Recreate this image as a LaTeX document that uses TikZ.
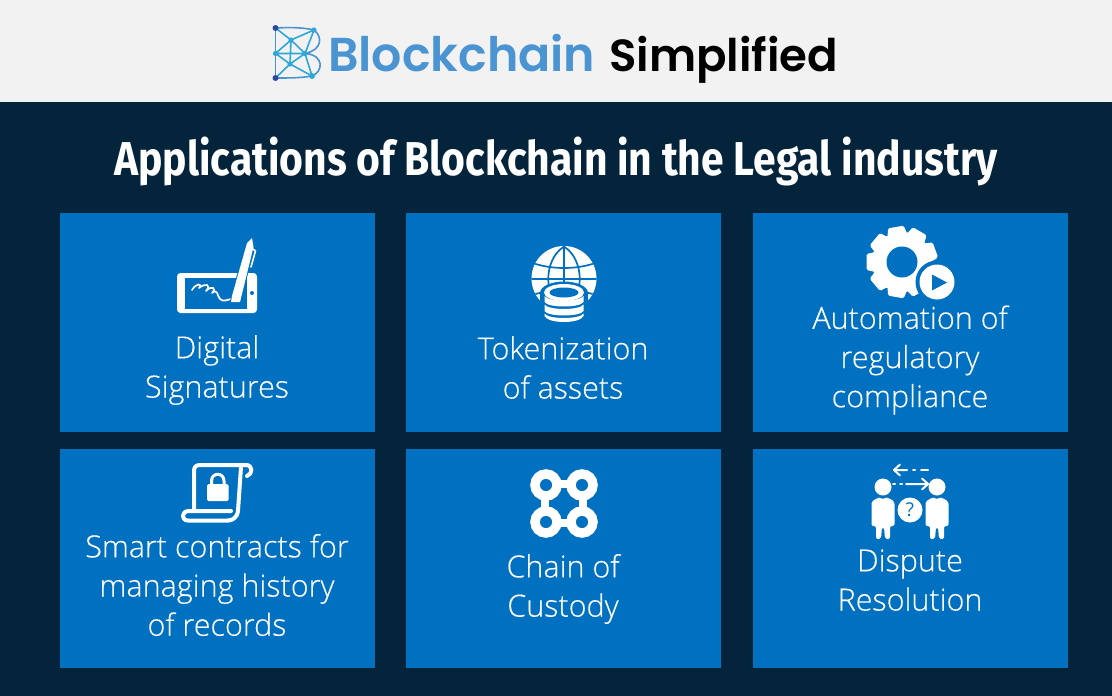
\documentclass[tikz,border=0pt]{standalone}
\usepackage{fontspec}
\setmainfont{Open Sans}[UprightFont=* Light,FakeBold=0.25]
\newfontfamily\qfont{Open Sans}
\newfontfamily\titlefont{Fira Sans}[UprightFont=* Bold,FakeStretch=0.86]
\newfontfamily\logofont{Poppins}[UprightFont=* SemiBold]
\usetikzlibrary{arrows.meta}
\definecolor{bgnavy}{HTML}{03243A}
\definecolor{boxblue}{HTML}{0070C0}
\definecolor{headgrey}{HTML}{F2F2F2}
\definecolor{logoblue}{HTML}{4A94D2}
\definecolor{logocyan}{HTML}{2FA8D8}
\definecolor{logoindigo}{HTML}{2C4A9E}
\tikzset{
 tile/.style={fill=boxblue,draw=none,minimum width=315pt,minimum height=219pt,inner sep=0pt,anchor=north west},
 lbl/.style={text=white,align=center,font=\fontsize{30.5}{39.2}\selectfont,inner sep=0pt},
 icl/.style={draw=white,line cap=round,line join=round},
 lg/.style={draw=logocyan,line width=1.6pt},
 lgd/.style={fill=logocyan,draw=none}
}
\begin{document}
\begin{tikzpicture}[x=1pt,y=-1pt]
\useasboundingbox (0,0) rectangle (1112,696);
\fill[bgnavy] (0,0) rectangle (1112,696);
\fill[headgrey] (0,0) rectangle (1112,102);
% logo
\draw[lg,draw=logoblue] (275.5,28) -- (275.5,78);
\draw[lg,draw=logoblue] (275.5,28) .. controls (295,27) and (305,28) .. (314,30) .. controls (323,37) and (322,50) .. (305,53.5) .. controls (325,55) and (323,72) .. (312,76) .. controls (300,78) and (290,78) .. (275.5,78);
\draw[lg] (275.5,28) -- (291,40) -- (314,30) (291,40) -- (305,53.5) -- (290,64) -- (275.5,53.5) -- (291,40) -- (290,64) -- (275.5,78) (290,64) -- (312,76) -- (305,53.5) -- (314,30) (275.5,53.5) -- (305,53.5);
\fill[logoindigo] (275.5,28) circle (3) (275.5,78) circle (3);
\fill[lgd] (314,30) circle (2.6) (291,40) circle (2.6) (275.5,53.5) circle (2.6) (305,53.5) circle (2.6) (290,64) circle (2.6) (312,76) circle (3);
\node[inner sep=0pt,anchor=base west,text=logoblue,font=\logofont\fontsize{47.5}{50}\selectfont] (brand) at (328,71) {Blockchain};
\node[inner sep=0pt,anchor=base west,text=black,font=\logofont\fontsize{45}{50}\selectfont] (simp) at (609,71) {Simplified};
\node[inner sep=0pt,text=white,anchor=base,font=\titlefont\fontsize{47.5}{50}\selectfont] (title) at (556,175) {Applications of Blockchain in the Legal industry};
% tiles
\node[tile] (t1) at (60,213) {};
\node[tile] (t2) at (406,213) {};
\node[tile] (t3) at (753,213) {};
\node[tile] (t4) at (60,449) {};
\node[tile] (t5) at (406,449) {};
\node[tile] (t6) at (753,449) {};
% labels
\node[lbl] (l1) at (217,370) {Digital\\Signatures};
\node[lbl] (l2) at (563,367.5) {Tokenization\\of assets};
\node[lbl] (l3) at (910,360) {Automation of\\regulatory\\compliance};
\node[lbl] (l4) at (217,585) {Smart contracts for\\managing history\\of records};
\node[lbl] (l5) at (563,589) {Chain of\\Custody};
\node[lbl] (l6) at (910,580) {Dispute\\Resolution};
% icon 1: phone and pen
\fill[white,rounded corners=3.5pt] (177,273) rectangle (257,313);
\fill[boxblue] (185,277.5) rectangle (247,308.5);
\fill[boxblue] (252,293) circle (2);
\draw[icl,line width=1.7pt] (192,290) .. controls (196,283) and (203,283) .. (199,288) .. controls (205,283) and (212,284) .. (206,291) .. controls (212,285) and (217,288) .. (212,293) .. controls (218,288) and (217,296) .. (220,299) .. controls (223,302) and (227,300) .. (231,299);
\draw[draw=boxblue,fill=white,line width=2pt,line join=round] (231,302) -- (232,296) -- (247,243) -- (252,238) -- (253.5,247) -- (241,298) -- (240,302) -- cycle;
\fill[white] (231,302) -- (232,296) -- (247,243) -- (252,238) -- (253.5,247) -- (241,298) -- (240,302) -- cycle;
\draw[icl,line width=1.6pt] (253,249) -- (255.5,251) -- (251,267);
% icon 2: globe and database
\fill[white] (564,278.5) circle (32.5);
\begin{scope}
\clip (564,278.5) circle (32.5);
\draw[boxblue,line width=1.7pt] (564,240) -- (564,320) (525,279) -- (605,279) (530,262) .. controls (550,270) and (578,270) .. (598,262) (530,296) .. controls (550,288) and (578,288) .. (598,296);
\draw[boxblue,line width=1.7pt] (564,246.5) .. controls (543,260) and (543,298) .. (564,311.5) .. controls (585,298) and (585,260) .. (564,246.5);
\end{scope}
\fill[boxblue] (564,293) ellipse (24 and 11.5);
\fill[boxblue] (540,293) rectangle (588,322) (538,304) rectangle (590,325);
\fill[white] (564,292.5) ellipse (20 and 8.5);
\fill[boxblue] (564,292.5) ellipse (14.5 and 5);
\fill[white] (544.5,296) .. controls (548,302) and (580,302) .. (583.5,296) -- (583.5,302) .. controls (580,308) and (548,308) .. (544.5,302) -- cycle;
\fill[white] (544.5,304.5) .. controls (548,310.5) and (580,310.5) .. (583.5,304.5) -- (583.5,311) .. controls (580,317) and (548,317) .. (544.5,311) -- cycle;
\fill[white] (544.5,313.5) .. controls (548,319.5) and (580,319.5) .. (583.5,313.5) -- (583.5,316) .. controls (580,324) and (548,324) .. (544.5,316) -- cycle;
% icon 3: gear and play
\fill[white] (902,262) circle (30);
\foreach \a in {10,50,...,330}{
 \fill[white,rounded corners=1.5pt,rotate around={\a:(902,262)}] (894,226.5) -- (910,226.5) -- (913,240) -- (891,240) -- cycle;
}
\fill[boxblue] (902,262) circle (15.5);
\fill[boxblue] (937,282) circle (21.5);
\fill[white] (937,282) circle (17.5);
\fill[boxblue] (932,274.5) -- (947,282.5) -- (932,290.5) -- cycle;
% icon 4: scroll with padlock
\draw[icl,line width=4pt] (194,509) -- (194,471) .. controls (194,467) and (196,465) .. (200,465) -- (246,465) .. controls (253,465) and (253,474) .. (247,476);
\draw[icl,line width=4pt] (241,467) -- (238,511) .. controls (237,518) and (232,520.5) .. (228,520.5);
\draw[icl,line width=4pt] (188,520.5) -- (228,520.5) (231,511) -- (189,511) .. controls (181,511) and (181,520.5) .. (188,520.5);
\fill[white,rounded corners=1.5pt] (207,484) rectangle (228.5,501);
\draw[icl,line width=3pt,line cap=butt] (211.5,485) -- (211.5,481) .. controls (211.5,472) and (224,472) .. (224,481) -- (224,485);
% icon 5: chain
\draw[draw=white,line width=9.5pt] (546,485) circle (11) (582,485) circle (11) (546,522) circle (11) (582,522) circle (11);
\draw[draw=white,line width=8pt] (555,484) -- (573,484) (555,523) -- (573,523) (545,494) -- (545,513) (583,494) -- (583,513);
% icon 6: two people
\fill[white] (883,487) circle (8.5);
\fill[white] (937,487) circle (8.5);
\fill[white,rounded corners=2pt] (871.5,526) -- (871.5,506) .. controls (871.5,501) and (875,499) .. (881,497) -- (882.5,500) -- (885,497) .. controls (891,499) and (894.5,501) .. (894.5,506) -- (894.5,526) -- (890,526) -- (890,539) -- (885,539) -- (884,527) -- (882,527) -- (881,539) -- (876,539) -- (876,526) -- cycle;
\fill[white,rounded corners=2pt] (925.5,526) -- (925.5,506) .. controls (925.5,501) and (929,499) .. (935,497) -- (936.5,500) -- (939,497) .. controls (945,499) and (948.5,501) .. (948.5,506) -- (948.5,526) -- (944,526) -- (944,539) -- (939,539) -- (938,527) -- (936,527) -- (935,539) -- (930,539) -- (930,526) -- cycle;
\node[circle,fill=white,minimum size=25pt,inner sep=0pt,text=boxblue,font=\qfont\fontsize{19}{20}\selectfont] (q) at (910,510) {?};
\draw[icl,line width=2pt] (907,470) -- (894,470) (900,464.5) -- (894,470) -- (900,475.5);
\draw[icl,line width=2pt] (913,470) -- (915,470) (921,470) -- (928,470);
\draw[icl,line width=2pt] (906,484) -- (928,484) (922,478.5) -- (928,484) -- (922,489.5);
\draw[icl,line width=2pt] (893,484) -- (895,484) (900,484) -- (902,484);
\end{tikzpicture}
\end{document}
